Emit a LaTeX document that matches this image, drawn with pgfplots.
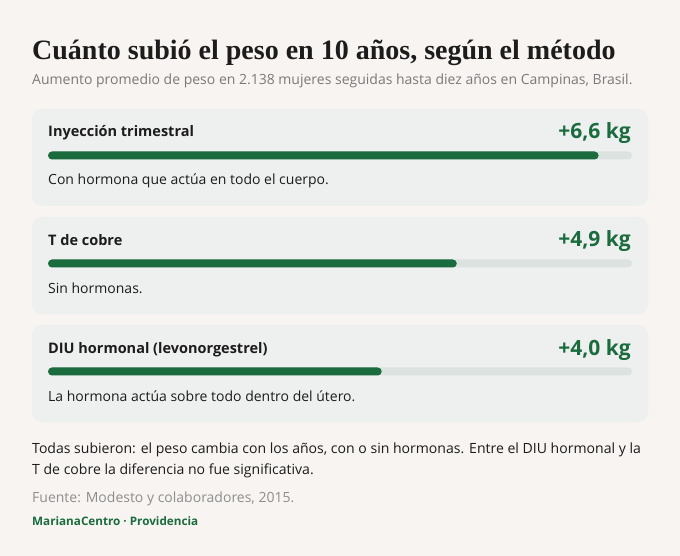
\documentclass[border=0pt]{standalone}
\usepackage{pgfplots}
\pgfplotsset{compat=1.18}
\usepackage{fontspec}
\setmainfont{Open Sans}
\newfontfamily\titlefont{Liberation Serif}
\definecolor{bg}{HTML}{F7F4F1}
\definecolor{card}{HTML}{EEF0EF}
\definecolor{track}{HTML}{DCE2DF}
\definecolor{verde}{HTML}{1A6B3D}
\definecolor{tinta}{HTML}{1C1C1C}
\definecolor{gris}{HTML}{7A7A7A}
\begin{document}
\begin{tikzpicture}[x=1pt,y=1pt]
\fill[bg] (0,0) rectangle (680,-556);
% tarjetas
\foreach \t in {109,217,325}
  \fill[card, rounded corners=10pt] (32,-\t) rectangle (648,-\t-97);
% titulo y subtitulo
\node[anchor=base west, inner sep=0, text=tinta] at (32,-60)
  {\titlefont\bfseries\fontsize{28}{31}\selectfont Cuánto subió el peso en 10 años, según el método};
\node[anchor=base west, inner sep=0, text=gris] at (32,-85)
  {\fontsize{14}{17}\selectfont Aumento promedio de peso en 2.138 mujeres seguidas hasta diez años en Campinas, Brasil.};
% barras
\begin{axis}[at={(48pt,-556pt)}, anchor=south west, width=584pt, height=556pt,
  scale only axis, xmin=0, xmax=7, ymin=-556, ymax=0, hide axis, clip=false,
  xbar, bar width=8pt]
\addplot[fill=track, draw=none, rounded corners=4pt, bar shift=0pt]
  coordinates {(7,-155.5) (7,-263.5) (7,-371.5)};
\addplot[fill=verde, draw=none, rounded corners=4pt, bar shift=0pt]
  coordinates {(6.6,-155.5) (4.9,-263.5) (4.0,-371.5)};
\end{axis}
% textos de tarjetas
\node[anchor=base west, inner sep=0, text=tinta] at (48,-137)
  {\bfseries\fontsize{14.5}{18}\selectfont Inyección trimestral};
\node[anchor=base east, inner sep=0, text=verde] at (631,-139)
  {\bfseries\fontsize{21}{24}\selectfont +6,6 kg};
\node[anchor=base west, inner sep=0, text=tinta] at (48,-185)
  {\fontsize{14}{17}\selectfont Con hormona que actúa en todo el cuerpo.};
\node[anchor=base west, inner sep=0, text=tinta] at (48,-245)
  {\bfseries\fontsize{14.5}{18}\selectfont T de cobre};
\node[anchor=base east, inner sep=0, text=verde] at (631,-247)
  {\bfseries\fontsize{21}{24}\selectfont +4,9 kg};
\node[anchor=base west, inner sep=0, text=tinta] at (48,-293)
  {\fontsize{14}{17}\selectfont Sin hormonas.};
\node[anchor=base west, inner sep=0, text=tinta] at (48,-353)
  {\bfseries\fontsize{14.5}{18}\selectfont DIU hormonal (levonorgestrel)};
\node[anchor=base east, inner sep=0, text=verde] at (631,-355)
  {\bfseries\fontsize{21}{24}\selectfont +4,0 kg};
\node[anchor=base west, inner sep=0, text=tinta] at (48,-401)
  {\fontsize{14}{17}\selectfont La hormona actúa sobre todo dentro del útero.};
% notas
\node[anchor=base west, inner sep=0, text=tinta] at (32,-453)
  {\fontsize{14.05}{17}\selectfont Todas subieron: el peso cambia con los años, con o sin hormonas. Entre el DIU hormonal y la};
\node[anchor=base west, inner sep=0, text=tinta] at (32,-474)
  {\fontsize{14.05}{17}\selectfont T de cobre la diferencia no fue significativa.};
\node[anchor=base west, inner sep=0, text=gris!85] at (32,-502)
  {\fontsize{14}{17}\selectfont Fuente: Modesto y colaboradores, 2015.};
\node[anchor=base west, inner sep=0, text=verde] at (32,-525)
  {\bfseries\fontsize{11.7}{15}\selectfont MarianaCentro · Providencia};
\end{tikzpicture}
\end{document}
